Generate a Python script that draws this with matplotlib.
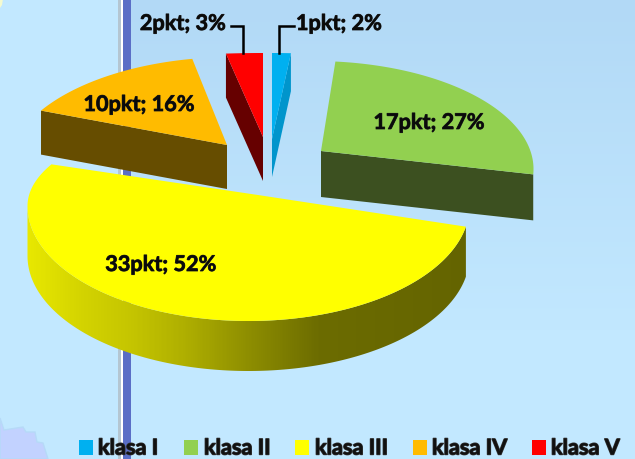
import numpy as np
import matplotlib
matplotlib.use("Agg")
import matplotlib.pyplot as plt
from matplotlib.patches import Polygon, Rectangle
from matplotlib.colors import LinearSegmentedColormap
import matplotlib.patheffects as pe

# ---- data ----
categories = ["klasa I", "klasa II", "klasa III", "klasa IV", "klasa V"]
points = [1, 17, 33, 10, 2]
percents = [2, 27, 52, 16, 3]

# ---- style / layout ----
top_colors = ["#00B0F0", "#92D050", "#FFFF00", "#FFBB00", "#FF0000"]
side_colors = ["#0095CC", "#3C5020", "#808000", "#664D00", "#660000"]
layout = [
    dict(c=(272, 94), r=(190, 40, 40), apex=(272, 140), depth=38, shift=(0, 0), face="end"),
    dict(c=(313.5, 170), r=(220, 108, 108), apex=(321, 152), depth=46, shift=(0, -10), face="end"),
    dict(c=(248.5, 207), r=(221, 92, 115), apex=(258, 196), depth=50, shift=(-2.5, 5.5), face="arc"),
    dict(c=(233, 170), r=(225, 112, 112), apex=(227, 146), depth=44, shift=(10.0, 1), face="start"),
    dict(c=(263, 84), r=(187, 30, 30), apex=(263, 138), depth=44, shift=(0, 0), face="start"),
]
label_pos = [(339, 24.5), (429, 123.5), (161, 265.5), (139, 105.5), (183, 24.5)]
legend_sq = [79, 184, 295, 413, 532]
legend_tx = [98, 204, 315, 432, 551]
draw_order = [2, 3, 4, 0, 1]

FONT = "Lato"
fig = plt.figure(figsize=(6.35, 4.6), dpi=100)
ax = fig.add_axes([0, 0, 1, 1])

# background
H, W = 460, 635
left = np.array([0xC2, 0xE8, 0xFF]) / 255
rtop = np.array([0xB2, 0xD9, 0xF6]) / 255
bg = np.zeros((H, W, 3))
bg[:] = left
t = np.clip(np.linspace(0, 1, H) / 0.72, 0, 1)[:, None, None]
bg[:, 131:, :] = rtop[None, None, :] * (1 - t) + left[None, None, :] * t
ax.imshow(bg, extent=(0, W, H, 0), aspect="auto", zorder=0, interpolation="nearest")
ax.add_patch(Rectangle((118, 0), 3, H, fc="#B4C6D2", ec="none", zorder=1))
ax.add_patch(Rectangle((121, 0), 2, H, fc="#FFFFFF", ec="none", zorder=1))
ax.add_patch(Rectangle((123, 0), 8, H, fc="#5A6EC6", ec="none", zorder=1))
ax.add_patch(Polygon([(0, 419), (4, 431), (23, 428), (26, 433), (35, 433), (37, 443),
                      (43, 444), (48, 460), (0, 460)], fc="#C2D2FF", ec="#B6DAF8", lw=1, zorder=1))
ax.add_patch(Polygon([(0, 0), (3, 0), (2, 6), (0, 9)], fc="#F4FAD0", ec="none", zorder=1))

grad = LinearSegmentedColormap.from_list("side", [
    (0.00, "#E8E800"), (0.12, "#D4D400"), (0.24, "#C4C400"), (0.36, "#AEAE00"),
    (0.50, "#8E8E00"), (0.66, "#6C6C00"), (1.00, "#646400")])


def arc(L, a0, a1, n=160):
    th = np.radians(np.linspace(a0, a1, n))
    cos = np.cos(th)
    ry = np.where(cos > 0, L["r"][1], L["r"][2])
    return np.c_[L["c"][0] + L["r"][0] * np.sin(th), L["c"][1] - ry * cos]


fractions = np.array(points) / sum(points)
edges = np.r_[0, np.cumsum(fractions)] * 360

for i in draw_order:
    L = layout[i]
    a0, a1 = edges[i] + L["shift"][0], edges[i + 1] + L["shift"][1]
    rim = arc(L, a0, a1)
    d = np.array([0, L["depth"]])
    apex = np.array(L["apex"], float)
    z = 3 + draw_order.index(i)
    if L["face"] == "arc":
        vis = arc(L, a0, min(a1, 270))
        side = np.vstack([vis, (vis + d)[::-1]])
        poly = Polygon(side, fc="none", ec="none", zorder=z)
        ax.add_patch(poly)
        im = ax.imshow(np.linspace(0, 1, 440)[None, :], extent=(27, 470, 400, 150), cmap=grad,
                       aspect="auto", zorder=z, vmin=0, vmax=1)
        im.set_clip_path(poly)
    elif L["face"] == "end":
        p = rim[-1]
        ax.add_patch(Polygon([apex, p, p + d, apex + d], fc=side_colors[i], ec="none", zorder=z))
    else:
        p = rim[0]
        ax.add_patch(Polygon([p, apex, apex + d, p + d], fc=side_colors[i], ec="none", zorder=z))
    ax.add_patch(Polygon(np.vstack([apex, rim]), fc=top_colors[i], ec="none", zorder=z))

# leader lines
ax.plot([243, 243, 231], [54, 27, 27], color="black", lw=1.8, zorder=9, solid_joinstyle="miter")
ax.plot([279, 279, 294], [54, 27, 27], color="black", lw=1.8, zorder=9, solid_joinstyle="miter")

# data labels
for i in range(5):
    ax.text(*label_pos[i], f"{points[i]}pkt; {percents[i]}%", ha="center", va="center",
            family=FONT, weight="bold", fontsize=15.6, color="#0A0A0A", zorder=10,
            path_effects=[pe.withStroke(linewidth=0.6, foreground="#222222")])

# legend
for i in range(5):
    ax.add_patch(Rectangle((legend_sq[i], 441), 13.5, 15, fc=top_colors[i], ec="none", zorder=10))
    ax.text(legend_tx[i], 449, categories[i], ha="left", va="center", family=FONT, weight="bold",
            fontsize=15.6, color="#111111", zorder=10,
            path_effects=[pe.withStroke(linewidth=1.0, foreground="#333333")])

ax.set_xlim(0, W)
ax.set_ylim(H, 0)
ax.axis("off")
fig.savefig("out.png", dpi=100)
